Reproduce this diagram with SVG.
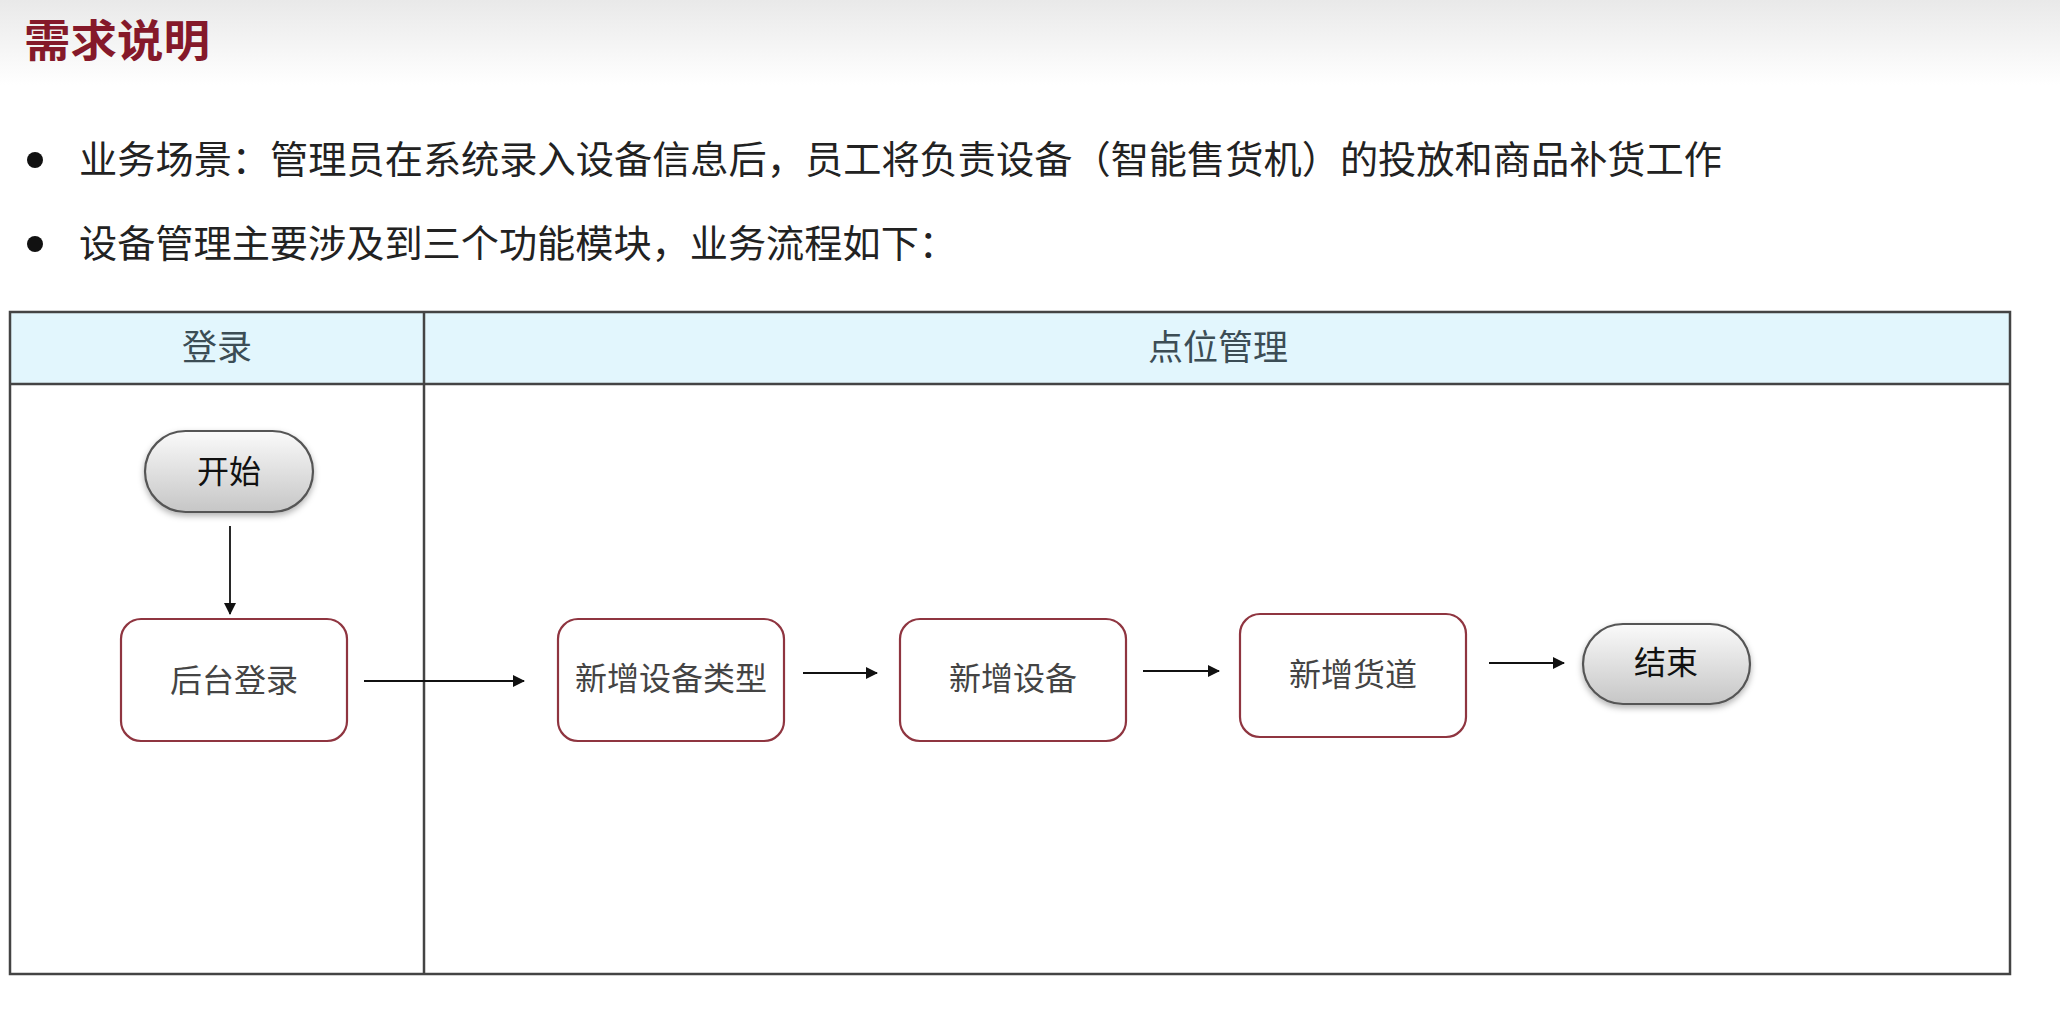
<svg xmlns="http://www.w3.org/2000/svg" width="2060" height="1028" viewBox="0 0 2060 1028">
<style>
text{font-family:"Noto Sans CJK SC","Noto Sans",sans-serif;}
.title{font-size:44px;font-weight:bold;fill:#85192a;}
.bullet{font-size:38px;fill:#222;}
.lane{font-size:35px;fill:#3c4d55;}
.proc rect{fill:#fff;stroke:#8f3540;stroke-width:2.2;}
.proc text{font-size:32px;fill:#444;text-anchor:middle;}
.term rect{fill:url(#termGrad);stroke:#555;stroke-width:2.2;filter:url(#shadow);}
.term text{font-size:32px;fill:#111;text-anchor:middle;}
.conn line{stroke:#111;stroke-width:1.8;marker-end:url(#arrow);}
.frame{fill:none;stroke:#444;stroke-width:2.5;}
</style>
<defs>
<linearGradient id="topBand" x1="0" y1="0" x2="0" y2="1">
<stop offset="0" stop-color="#e9e9e9"/>
<stop offset="1" stop-color="#ffffff"/>
</linearGradient>
<linearGradient id="termGrad" x1="0" y1="0" x2="0" y2="1">
<stop offset="0" stop-color="#fafafa"/>
<stop offset="1" stop-color="#c6c6c6"/>
</linearGradient>
<filter id="shadow" x="-20%" y="-20%" width="140%" height="150%">
<feDropShadow dx="0" dy="3" stdDeviation="3" flood-color="#000" flood-opacity="0.3"/>
</filter>
<marker id="arrow" viewBox="0 0 12 12" refX="11" refY="6" markerWidth="12" markerHeight="12" markerUnits="userSpaceOnUse" orient="auto">
<path d="M0,0 L12,6 L0,12 Z" fill="#111"/>
</marker>
</defs>
<rect x="0" y="0" width="2060" height="1028" fill="#fff"/>
<rect x="0" y="0" width="2060" height="85" fill="url(#topBand)"/>
<text class="title" x="24" y="57" textLength="186" lengthAdjust="spacingAndGlyphs">需求说明</text>
<circle cx="35" cy="160" r="8" fill="#111"/>
<text class="bullet" x="79" y="173" textLength="1643" lengthAdjust="spacingAndGlyphs">业务场景：管理员在系统录入设备信息后，员工将负责设备（智能售货机）的投放和商品补货工作</text>
<circle cx="35" cy="244" r="8" fill="#111"/>
<text class="bullet" x="79" y="257" textLength="878" lengthAdjust="spacingAndGlyphs">设备管理主要涉及到三个功能模块，业务流程如下：</text>
<g id="swimlanes">
<rect x="10" y="312" width="2000" height="72" fill="#e2f6fd"/>
<rect class="frame" x="10" y="312" width="2000" height="662"/>
<line x1="10" y1="384" x2="2010" y2="384" stroke="#444" stroke-width="2.5"/>
<line x1="424" y1="312" x2="424" y2="974" stroke="#444" stroke-width="2.5"/>
<text class="lane" x="217" y="360" text-anchor="middle">登录</text>
<text class="lane" x="1218" y="360" text-anchor="middle">点位管理</text>
</g>
<g id="start" class="term">
<rect x="145" y="431" width="168" height="81" rx="40.5"/>
<text x="229" y="483">开始</text>
</g>
<g id="login" class="proc">
<rect x="121" y="619" width="226" height="122" rx="20"/>
<text x="234" y="692">后台登录</text>
</g>
<g id="addType" class="proc">
<rect x="558" y="619" width="226" height="122" rx="20"/>
<text x="671" y="690">新增设备类型</text>
</g>
<g id="addDevice" class="proc">
<rect x="900" y="619" width="226" height="122" rx="20"/>
<text x="1013" y="690">新增设备</text>
</g>
<g id="addChannel" class="proc">
<rect x="1240" y="614" width="226" height="123" rx="20"/>
<text x="1353" y="686">新增货道</text>
</g>
<g id="end" class="term">
<rect x="1583" y="624" width="167" height="80" rx="40"/>
<text x="1666" y="674">结束</text>
</g>
<g id="connectors" class="conn">
<line x1="230" y1="526" x2="230" y2="614"/>
<line x1="364" y1="681" x2="524" y2="681"/>
<line x1="803" y1="673" x2="877" y2="673"/>
<line x1="1143" y1="671" x2="1219" y2="671"/>
<line x1="1489" y1="663" x2="1564" y2="663"/>
</g>
</svg>
